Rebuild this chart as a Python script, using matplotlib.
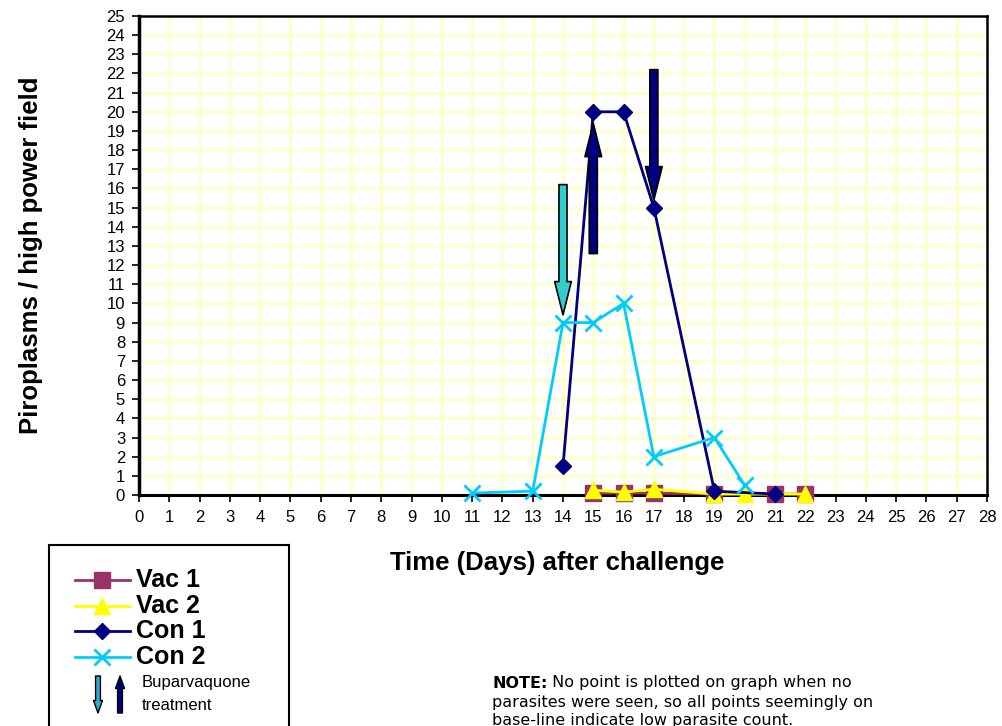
import matplotlib
matplotlib.use("Agg")
import matplotlib.pyplot as plt
from matplotlib.lines import Line2D

plt.rcParams["font.family"] = ["Liberation Sans", "DejaVu Sans"]

# data
vac1_days = [15, 16, 17, 19, 21, 22]
vac1_vals = [0.1, 0.1, 0.1, 0.05, 0.05, 0.05]
vac2_days = [15, 16, 17, 19, 20, 22]
vac2_vals = [0.25, 0.15, 0.3, 0.05, 0.05, 0.05]
con1_days = [14, 15, 16, 17, 19, 21]
con1_vals = [1.5, 20, 20, 15, 0.2, 0.05]
con2_days = [11, 13, 14, 15, 16, 17, 19, 20]
con2_vals = [0.1, 0.2, 9, 9, 10, 2, 3, 0.5]

# treatment arrows: (day, tail, tip, colour)
arrows = [
    (14, 16.2, 9.4, "#33CCCC"),
    (15, 12.6, 19.4, "#000080"),
    (17, 22.2, 15.4, "#000080"),
]

x_ticks = list(range(0, 29))
y_ticks = list(range(0, 26))

fig = plt.figure(figsize=(10.02, 7.26), dpi=100)
ax = fig.add_axes([139 / 1002, 1 - 495 / 726, 848 / 1002, 479 / 726])

ax.set_xlim(0, 28)
ax.set_ylim(0, 25)
ax.set_xticks(x_ticks)
ax.set_yticks(y_ticks)
ax.tick_params(labelsize=12, length=5, width=1.2, direction="out")
ax.tick_params(axis="x", pad=6)
ax.tick_params(axis="y", pad=5)
ax.grid(True, color="#FFFFC8", linewidth=2)
ax.set_axisbelow(True)
for side, lw in [("left", 2.5), ("bottom", 2.2), ("top", 1.8), ("right", 1.8)]:
    ax.spines[side].set_linewidth(lw)
    ax.spines[side].set_color("black")

ax.set_ylabel("Piroplasms / high power field", fontsize=18.5, fontweight="bold")
ax.set_xlabel("Time (Days) after challenge", fontsize=18.5, fontweight="bold")
ax.yaxis.set_label_coords((43 - 139) / 848, 0.5)
ax.xaxis.set_label_coords(0.493, (495 - 551) / 479)

series = [
    (vac1_days, vac1_vals, "#993366", "s", 11, "Vac 1"),
    (vac2_days, vac2_vals, "#FFFF00", "^", 12, "Vac 2"),
    (con1_days, con1_vals, "#000080", "D", 8, "Con 1"),
    (con2_days, con2_vals, "#00CCFF", "x", 11, "Con 2"),
]
for days, vals, col, mk, ms, lab in series:
    ax.plot(days, vals, color=col, marker=mk, markersize=ms, linewidth=2,
            markeredgewidth=2 if mk == "x" else 1, markeredgecolor=col,
            clip_on=False, zorder=3)

for day, tail, tip, col in arrows:
    ax.annotate("", xy=(day, tip), xytext=(day, tail),
                arrowprops=dict(arrowstyle="simple,head_length=2.4,head_width=1.2,tail_width=0.58",
                                fc=col, ec="black", lw=1.2, shrinkA=0, shrinkB=0),
                zorder=5)

# legend box, drawn by hand
lax = fig.add_axes([49 / 1002, 0, 240 / 1002, 181 / 726])
lax.set_xlim(49, 289)
lax.set_ylim(726, 545)
lax.set_xticks([])
lax.set_yticks([])
lax.spines["bottom"].set_visible(False)
for side in ["left", "top", "right"]:
    lax.spines[side].set_linewidth(1.5)

for i, (days, vals, col, mk, ms, lab) in enumerate(series):
    y = 580 + i * 25.7
    lax.add_line(Line2D([75, 130], [y, y], color=col, linewidth=2))
    lax.plot([102], [y], marker=mk, color=col, markersize=ms,
             markeredgewidth=2 if mk == "x" else 1, markeredgecolor=col)
    lax.text(136, y, lab, fontsize=18, fontweight="bold", va="center", ha="left")

lax.annotate("", xy=(98, 713), xytext=(98, 676),
             arrowprops=dict(arrowstyle="simple,head_length=0.9,head_width=0.65,tail_width=0.35",
                             fc="#33AACC", ec="black", lw=1, shrinkA=0, shrinkB=0))
lax.annotate("", xy=(120, 676), xytext=(120, 713),
             arrowprops=dict(arrowstyle="simple,head_length=0.9,head_width=0.65,tail_width=0.35",
                             fc="#000080", ec="black", lw=1, shrinkA=0, shrinkB=0))
lax.text(142, 682, "Buparvaquone", fontsize=12, va="center", ha="left")
lax.text(142, 705, "treatment", fontsize=12, va="center", ha="left")

# note: bold "NOTE:" followed by plain text
note_font = dict(fontsize=11.5, family="DejaVu Sans", va="center")
x0 = 492 / 1002
t_bold = fig.text(x0, 1 - 683 / 726, "NOTE:", fontweight="bold", **note_font)
fig.canvas.draw()
bb = t_bold.get_window_extent()
fig.text(bb.x1 / fig.bbox.width, 1 - 683 / 726, " No point is plotted on graph when no", **note_font)
fig.text(x0, 1 - 702 / 726, "parasites were seen, so all points seemingly on", **note_font)
fig.text(x0, 1 - 720 / 726, "base-line indicate low parasite count.", **note_font)

fig.savefig("out.png", dpi=100)
